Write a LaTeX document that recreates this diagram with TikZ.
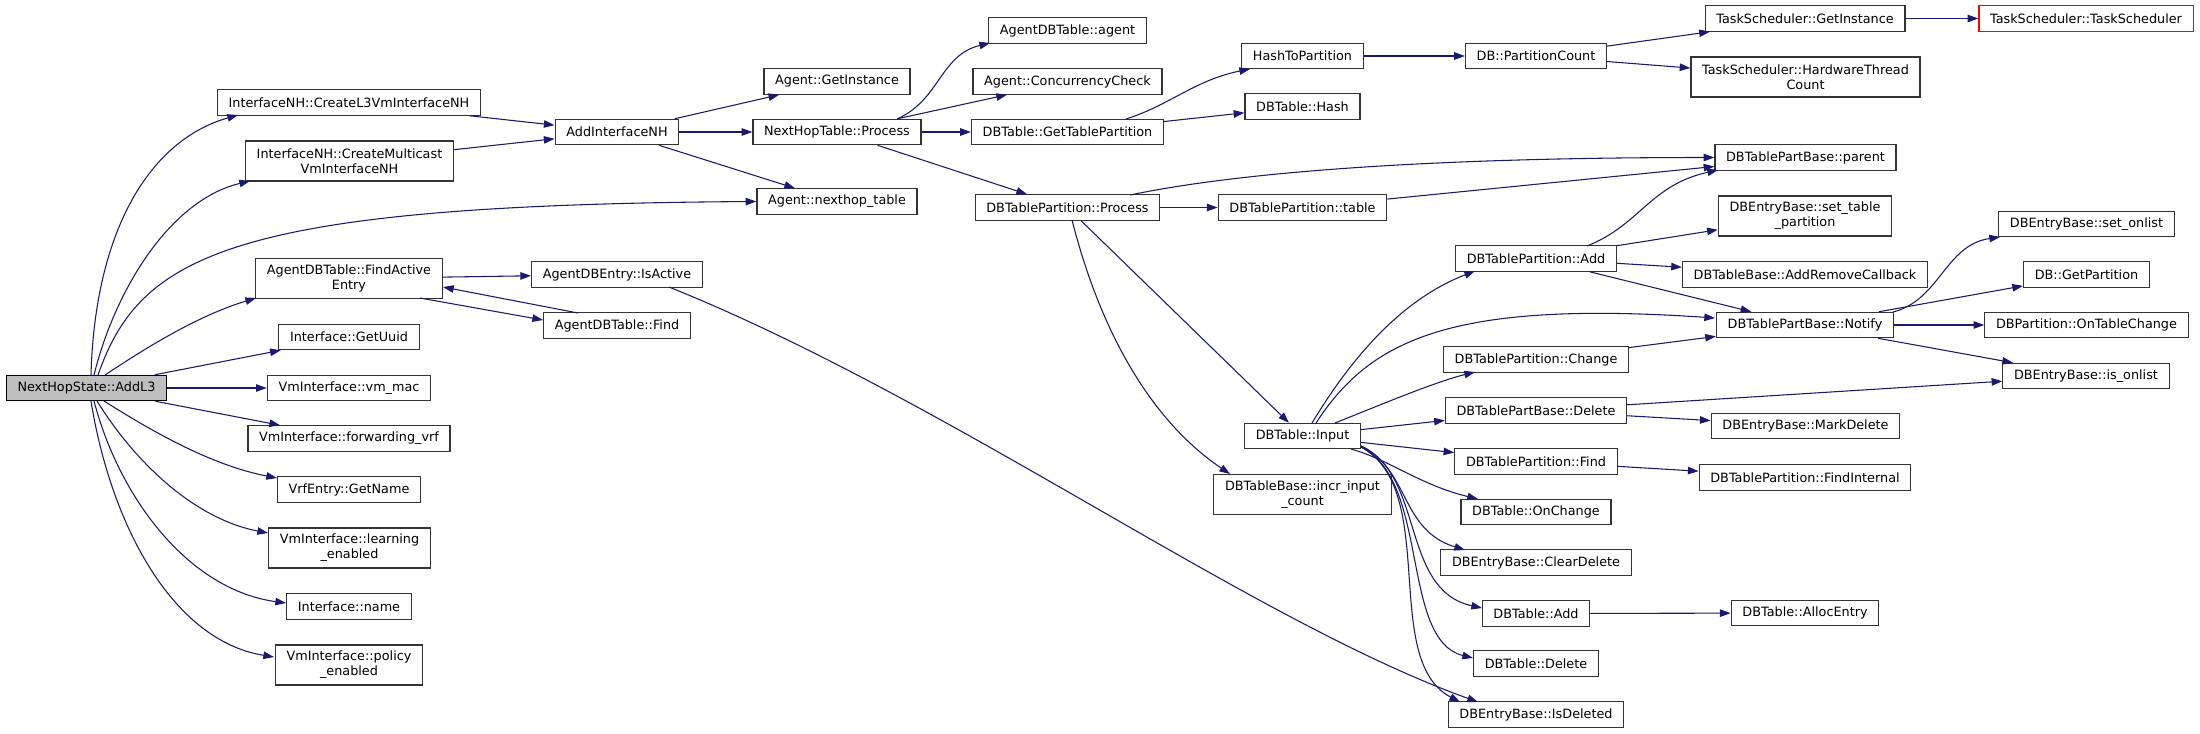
\documentclass[tikz,border=0pt]{standalone}
\usepackage{fontspec}
\setmainfont{DejaVu Sans}
\usetikzlibrary{arrows.meta,calc}
\definecolor{callblue}{HTML}{191970}
\definecolor{rootgrey}{HTML}{BFBFBF}

\begin{document}
\begin{tikzpicture}[x=0.75pt, y=-0.75pt, >={Triangle[length=8pt,width=5.6pt]},
  fnbox/.style={draw=black!80, line width=0.9pt, fill=white, inner xsep=8.4pt, inner ysep=2pt,
    minimum height=19pt, align=center, font=\fontsize{9.6}{11.25}\selectfont},
  twoline/.style={minimum height=30pt},
  rootbox/.style={fnbox, draw=black, fill=rootgrey},
  missbox/.style={fnbox, draw=red},
  callarrow/.style={->, color=callblue, line width=0.8pt}]
  \useasboundingbox (0,0) rectangle (2200,733);

  % caller
  \node[rootbox] (root) at (86.5,388) {NextHopState::AddL3};

  % direct callees
  \node[fnbox] (l3) at (349,102.5) {InterfaceNH::CreateL3VmInterfaceNH};
  \node[fnbox, twoline] (mcast) at (349.5,161) {InterfaceNH::CreateMulticast\\VmInterfaceNH};
  \node[fnbox, twoline] (findactive) at (349,278.5) {AgentDBTable::FindActive\\Entry};
  \node[fnbox] (getuuid) at (349,337) {Interface::GetUuid};
  \node[fnbox] (vmmac) at (349,388) {VmInterface::vm\_mac};
  \node[fnbox] (fwdvrf) at (349,438.5) {VmInterface::forwarding\_vrf};
  \node[fnbox] (vrfname) at (349,489.5) {VrfEntry::GetName};
  \node[fnbox, twoline] (learning) at (349.5,548) {VmInterface::learning\\\_enabled};
  \node[fnbox] (ifname) at (349,606.5) {Interface::name};
  \node[fnbox, twoline] (policy) at (349,665) {VmInterface::policy\\\_enabled};

  \node[fnbox] (addnh) at (617,132) {AddInterfaceNH};
  \node[fnbox] (isactive) at (617,274.5) {AgentDBEntry::IsActive};
  \node[fnbox] (agentfind) at (617,325.5) {AgentDBTable::Find};

  \node[fnbox] (getinst) at (837,81.5) {Agent::GetInstance};
  \node[fnbox] (nhprocess) at (837,132) {NextHopTable::Process};
  \node[fnbox] (nhtable) at (837,201.5) {Agent::nexthop\_table};

  \node[fnbox] (tblagent) at (1067.5,30.5) {AgentDBTable::agent};
  \node[fnbox] (concheck) at (1067.5,81.5) {Agent::ConcurrencyCheck};
  \node[fnbox] (gettp) at (1067.5,132) {DBTable::GetTablePartition};
  \node[fnbox] (tpprocess) at (1067.5,207.5) {DBTablePartition::Process};

  \node[fnbox] (hashpart) at (1302.5,56) {HashToPartition};
  \node[fnbox] (tblhash) at (1302.5,106.5) {DBTable::Hash};
  \node[fnbox] (tptable) at (1302.5,207.5) {DBTablePartition::table};
  \node[fnbox] (input) at (1302.5,436) {DBTable::Input};
  \node[fnbox, twoline] (incr) at (1302.5,494.5) {DBTableBase::incr\_input\\\_count};

  \node[fnbox] (pcount) at (1536,56) {DB::PartitionCount};
  \node[fnbox] (tpadd) at (1536,258.5) {DBTablePartition::Add};
  \node[fnbox] (tpchange) at (1536,359.5) {DBTablePartition::Change};
  \node[fnbox] (pbdelete) at (1536,410.5) {DBTablePartBase::Delete};
  \node[fnbox] (tpfind) at (1536,461.5) {DBTablePartition::Find};
  \node[fnbox] (onchange) at (1536,512) {DBTable::OnChange};
  \node[fnbox] (cleardel) at (1536,562.5) {DBEntryBase::ClearDelete};
  \node[fnbox] (tbladd) at (1536,613.5) {DBTable::Add};
  \node[fnbox] (tbldel) at (1536,663.5) {DBTable::Delete};
  \node[fnbox] (isdeleted) at (1536,714.5) {DBEntryBase::IsDeleted};

  \node[fnbox] (tsinst) at (1805,18.5) {TaskScheduler::GetInstance};
  \node[fnbox, twoline] (hwcount) at (1805.5,77) {TaskScheduler::HardwareThread\\Count};
  \node[fnbox] (parent) at (1805.5,157.5) {DBTablePartBase::parent};
  \node[fnbox, twoline] (settp) at (1805,216) {DBEntryBase::set\_table\\\_partition};
  \node[fnbox] (addremove) at (1805,274.5) {DBTableBase::AddRemoveCallback};
  \node[fnbox] (notify) at (1805,325) {DBTablePartBase::Notify};
  \node[fnbox] (markdel) at (1805.5,426) {DBEntryBase::MarkDelete};
  \node[fnbox] (findint) at (1805,477.5) {DBTablePartition::FindInternal};
  \node[fnbox] (alloc) at (1805,613) {DBTable::AllocEntry};

  \node[missbox] (tsctor) at (2086,18.5) {TaskScheduler::TaskScheduler};
  \node[fnbox] (setonlist) at (2086.5,224) {DBEntryBase::set\_onlist};
  \node[fnbox] (getpart) at (2086.5,274.5) {DB::GetPartition};
  \node[fnbox] (ontblchange) at (2086.5,325) {DBPartition::OnTableChange};
  \node[fnbox] (isonlist) at (2086,376) {DBEntryBase::is\_onlist};

  % straight calls
  \foreach \a/\b in {root/getuuid, root/vmmac, root/fwdvrf, l3/addnh, mcast/addnh,
      findactive/isactive, addnh/getinst, addnh/nhprocess, addnh/nhtable,
      nhprocess/concheck, nhprocess/gettp, nhprocess/tpprocess, gettp/tblhash,
      hashpart/pcount, tpprocess/tptable, tpprocess/input, tptable/parent,
      input/pbdelete, input/tpfind, pcount/tsinst, pcount/hwcount, tsinst/tsctor,
      tpadd/settp, tpadd/addremove, tpadd/notify, tpchange/notify,
      pbdelete/isonlist, pbdelete/markdel, tpfind/findint, tbladd/alloc,
      notify/getpart, notify/ontblchange, notify/isonlist}
    \draw[callarrow] (\a) -- (\b);

  % curved calls out of the caller
  \draw[callarrow] ($(root)+(4.5,-13)$) .. controls +(4,-145) and +(-88,25) .. ($(l3)+(-111,12.5)$);
  \draw[callarrow] ($(root)+(7.5,-13)$) .. controls +(21,-85) and +(-80,19) .. ($(mcast)+(-99.5,20)$);
  \draw[callarrow] ($(root)+(11.5,-13)$) .. controls +(42,-120) and +(-526,3.5) .. (nhtable.west);
  \draw[callarrow] ($(root)+(18.5,-13)$) .. controls +(45,-30) and +(-56,17) .. ($(findactive)+(-93,19.5)$);
  \draw[callarrow] ($(root)+(17.5,13)$) .. controls +(46,29) and +(-67,-13) .. ($(vrfname)+(-72,-11.5)$);
  \draw[callarrow] ($(root)+(10.5,13)$) .. controls +(43,69) and +(-68,-13) .. ($(learning)+(-81.5,-15)$);
  \draw[callarrow] ($(root)+(7.5,13)$) .. controls +(26,99) and +(-96,-13) .. ($(ifname)+(-63,-3.5)$);
  \draw[callarrow] ($(root)+(4.5,13)$) .. controls +(19,119) and +(-104,-17) .. ($(policy)+(-75,-8)$);

  % find active entry loop
  \draw[callarrow] ($(findactive)+(71,19.5)$) -- ($(agentfind)+(-74,-5.5)$);
  \draw[callarrow] ($(agentfind)+(-39,-12.5)$) -- ($(findactive)+(94,8.5)$);
  \draw[callarrow] ($(isactive)+(52,12.5)$) .. controls +(281,113) and +(-228,-82) .. ($(isdeleted)+(-58,-12.5)$);

  % table side
  \draw[callarrow] ($(nhprocess)+(60,-13)$) .. controls +(43,-19) and +(-50,12) .. ($(tblagent)+(-77.5,12.5)$);
  \draw[callarrow] ($(gettp)+(58.5,-13)$) .. controls +(44,-14) and +(-55,11) .. ($(hashpart)+(-52.5,13)$);
  \draw[callarrow] ($(tpprocess)+(62.5,-12.5)$) .. controls +(120,-25) and +(-264,0) .. (parent.west);
  \draw[callarrow] ($(tpprocess)+(4.5,12.5)$) .. controls +(28,110) and +(-80,-54) .. ($(incr)+(-72.5,-20.5)$);
  \draw[callarrow] ($(tpadd)+(51,-12.5)$) .. controls +(53,-21) and +(-68,15) .. ($(parent)+(-87.5,12.5)$);
  \draw[callarrow] ($(notify)+(88,-13)$) .. controls +(47,-12) and +(-55,8) .. ($(setonlist)+(-86.5,13)$);

  % fan out of DBTable::Input
  \draw[callarrow] ($(input)+(9.5,-13)$) .. controls +(38,-63) and +(-75,29) .. ($(tpadd)+(-61,12.5)$);
  \draw[callarrow] ($(input)+(13.5,-13)$) .. controls +(54,-83) and +(-265,-18) .. ($(notify)+(-90,-7)$);
  \draw[callarrow] ($(input)+(32.5,-13)$) .. controls +(50,-20) and +(-40,10) .. ($(tpchange)+(-61,12.5)$);
  \draw[callarrow] ($(input)+(48.5,13)$) .. controls +(39,11) and +(-58,-14) .. ($(onchange)+(-58,-13)$);
  \draw[callarrow] ($(input)+(58.5,10)$) .. controls +(49,24) and +(-65,-20) .. ($(cleardel)+(-71,-12.5)$);
  \draw[callarrow] ($(input)+(58.5,10)$) .. controls +(64,29) and +(-82,-18) .. ($(tbladd)+(-54,-5.5)$);
  \draw[callarrow] ($(input)+(58.5,11)$) .. controls +(69,33) and +(-73,-18) .. ($(tbldel)+(-63,-5.5)$);
  \draw[callarrow] ($(input)+(58.5,11)$) .. controls +(79,43) and +(-80,-42) .. ($(isdeleted)+(-76,-12.5)$);
\end{tikzpicture}
\end{document}
